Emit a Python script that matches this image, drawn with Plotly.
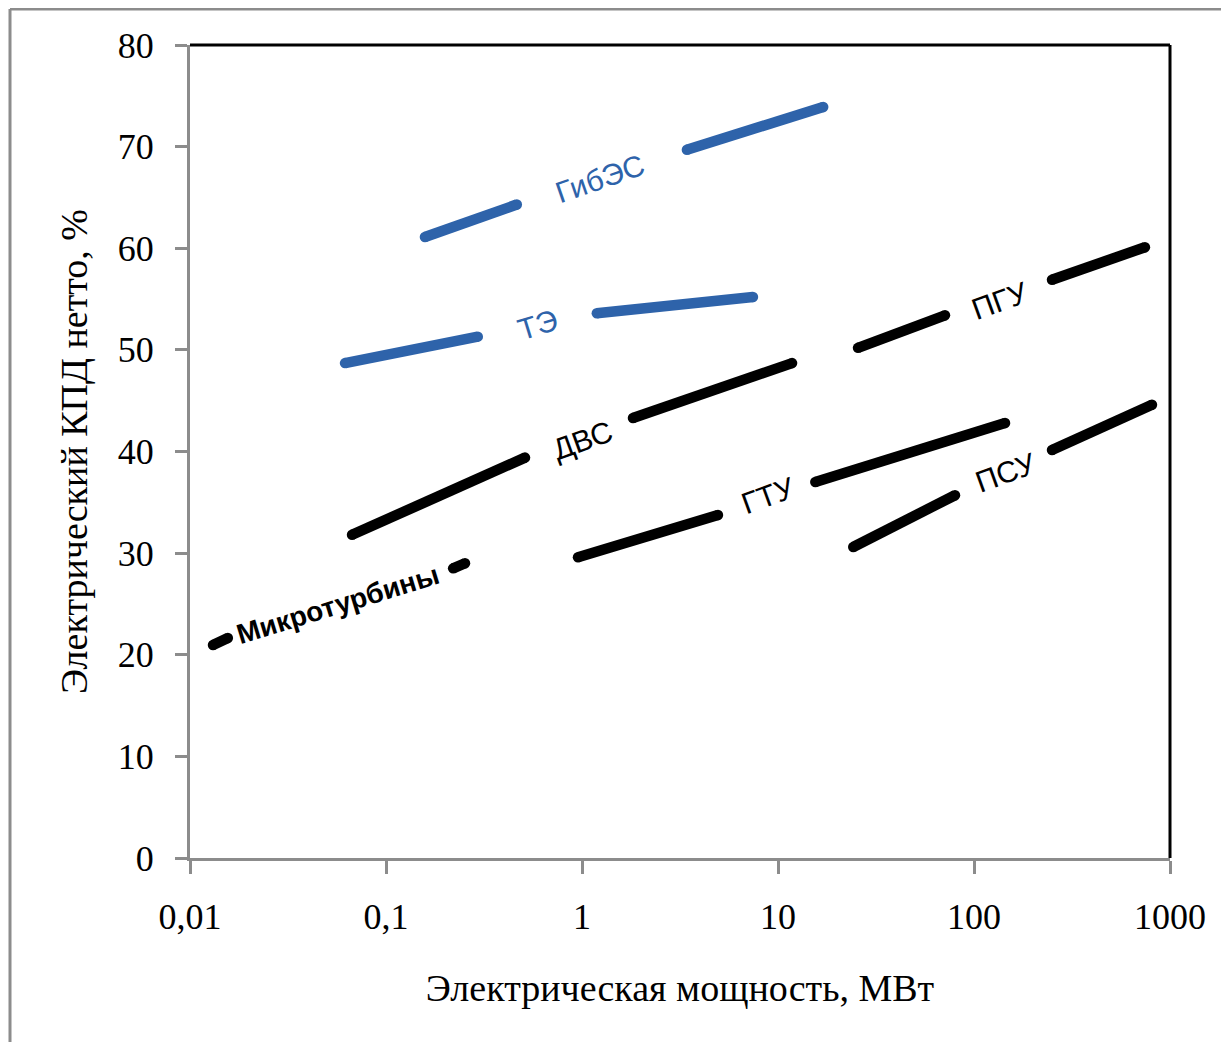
import math
import plotly.graph_objects as go

# ---- data (MW, %), each series = two segments separated by a label gap ----
gibes_x = [0.158, 0.465, None, 3.43, 17.0]
gibes_y = [61.1, 64.3, None, 69.7, 73.9]

te_x = [0.0618, 0.294, None, 1.19, 7.45]
te_y = [48.7, 51.3, None, 53.6, 55.2]

dvs_x = [0.0671, 0.512, None, 1.82, 11.8]
dvs_y = [31.8, 39.4, None, 43.3, 48.7]

pgu_x = [25.6, 71.1, None, 250, 745]
pgu_y = [50.2, 53.4, None, 56.9, 60.1]

gtu_x = [0.954, 4.94, None, 15.5, 144]
gtu_y = [29.6, 33.75, None, 37.0, 42.8]

psu_x = [24.2, 80, None, 250, 809]
psu_y = [30.6, 35.7, None, 40.15, 44.6]

micro_x = [0.0131, 0.0156, None, 0.22, 0.253]
micro_y = [20.96, 21.65, None, 28.5, 29.0]

# label positions (x in MW, y in %) and text
label_names = ["ГибЭС", "ТЭ", "ДВС", "ГТУ", "ПГУ", "ПСУ", "Микротурбины"]
label_x = [1.236, 0.597, 1.0, 8.9, 136, 145.5, 0.0569]
label_y = [66.9, 52.45, 41.1, 35.7, 54.9, 37.9, 24.9]

x_tickvals = [0.01, 0.1, 1, 10, 100, 1000]
x_ticktext = ["0,01", "0,1", "1", "10", "100", "1000"]
y_tickvals = [0, 10, 20, 30, 40, 50, 60, 70, 80]

BLUE = "#2E63AA"
BLACK = "#000000"

series = [
    (gibes_x, gibes_y, BLUE),
    (te_x, te_y, BLUE),
    (dvs_x, dvs_y, BLACK),
    (pgu_x, pgu_y, BLACK),
    (gtu_x, gtu_y, BLACK),
    (psu_x, psu_y, BLACK),
    (micro_x, micro_y, BLACK),
]

fig = go.Figure()
for xs, ys, col in series:
    fig.add_trace(go.Scatter(
        x=xs, y=ys, mode="lines+markers",
        line=dict(color=col, width=10.5),
        marker=dict(color=col, size=10.5, line=dict(width=0)),
        connectgaps=False, showlegend=False, hoverinfo="skip",
    ))

label_colors = [BLUE, BLUE, BLACK, BLACK, BLACK, BLACK, BLACK]
label_angles = [-19, -17, -20, -20, -20, -20, -17]
label_sizes = [30, 30, 30, 30, 30, 30, 28]
for name, lx, ly, c, a, s in zip(label_names, label_x, label_y, label_colors, label_angles, label_sizes):
    bold = name == "Микротурбины"
    fig.add_annotation(
        x=math.log10(lx), y=ly, xref="x", yref="y", showarrow=False,
        text=f"<b>{name}</b>" if bold else name,
        textangle=a,
        font=dict(family="Liberation Sans, Arial", size=s, color=c),
        xanchor="center", yanchor="middle",
    )

# outer gray frame (left & top)
fx = (10 - 190) / 980
fy = (858 - 9) / 813
fig.add_shape(type="line", xref="paper", yref="paper",
              x0=fx, x1=fx, y0=fy, y1=-0.3,
              line=dict(color="#8c8c8c", width=3))
fig.add_shape(type="line", xref="paper", yref="paper",
              x0=fx, x1=1.1, y0=fy, y1=fy,
              line=dict(color="#8c8c8c", width=3))
# black top/right border of plot area
fig.add_shape(type="line", xref="paper", yref="paper",
              x0=0, x1=1, y0=1, y1=1, line=dict(color="black", width=3))
fig.add_shape(type="line", xref="paper", yref="paper",
              x0=1, x1=1, y0=0, y1=1, line=dict(color="black", width=3))

serif = "Liberation Serif, Times New Roman, serif"
fig.update_layout(
    width=1221, height=1034,
    margin=dict(l=182, r=59, t=37, b=184),
    paper_bgcolor="white", plot_bgcolor="white",
    xaxis=dict(
        type="log", range=[-2, 3], automargin=False,
        tickvals=x_tickvals, ticktext=x_ticktext,
        showgrid=False, zeroline=False,
        showline=True, linecolor="#8c8c8c", linewidth=3,
        ticks="outside", ticklen=13, tickwidth=3, tickcolor="#8c8c8c",
        tickfont=dict(family=serif, size=36, color="black"),
        ticklabelstandoff=12,
        title=dict(text="Электрическая мощность, МВт",
                   font=dict(family=serif, size=38, color="black"),
                   standoff=39),
    ),
    yaxis=dict(
        range=[0, 80], automargin=False,
        tickvals=y_tickvals,
        showgrid=False, zeroline=False,
        showline=True, linecolor="#8c8c8c", linewidth=3,
        ticks="outside", ticklen=12, tickwidth=3, tickcolor="#8c8c8c",
        tickfont=dict(family=serif, size=36, color="black"),
        ticklabelstandoff=14,
        title=dict(text="Электрический КПД нетто, %",
                   font=dict(family=serif, size=38, color="black"),
                   standoff=19),
    ),
)

fig.write_html("out.html")
